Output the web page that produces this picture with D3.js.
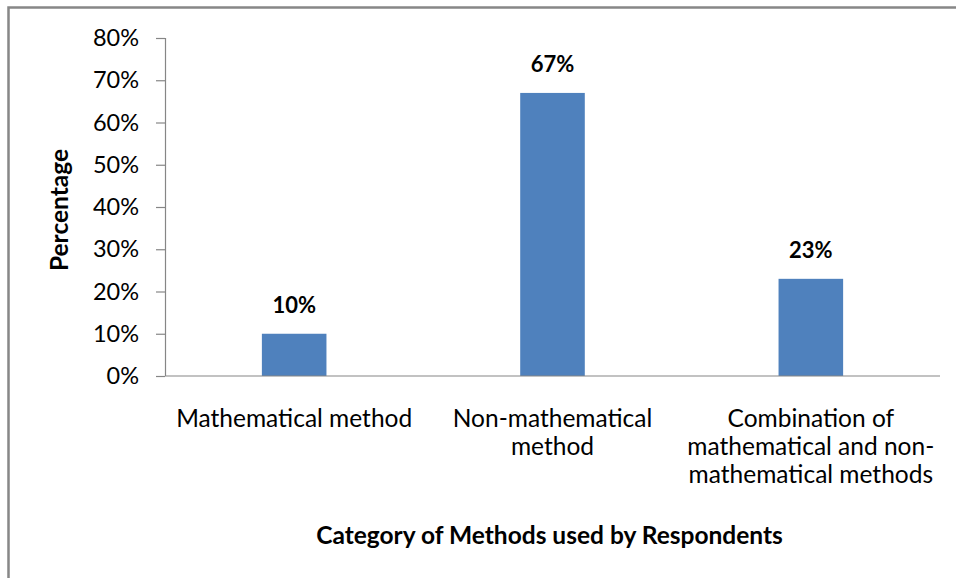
<!DOCTYPE html>
<html><head><meta charset="utf-8">
<script src="https://cdn.jsdelivr.net/npm/d3@7"></script>
<style>
html,body{margin:0;padding:0;background:#fff;}
svg{display:block;}
text{font-family:Lato,"Open Sans",sans-serif;fill:#000;}
</style></head>
<body>
<svg id="chart" width="956" height="578"></svg>
<script>
const categories = ["Mathematical method", "Non-mathematical method", "Combination of mathematical and non-mathematical methods"];
const categoryLines = [["Mathematical method"], ["Non-mathematical", "method"], ["Combination of", "mathematical and non-", "mathematical methods"]];
const values = [10, 67, 23];
const yTicks = [0, 10, 20, 30, 40, 50, 60, 70, 80];
const xTitle = "Category of Methods used by Respondents";
const yTitle = "Percentage";

const svg = d3.select("#chart");
const W = 956, H = 578;
const m = {left: 165, right: 16, top: 38, bottom: 202};

// outer frame (top and left edges visible)
svg.append("path").attr("d", `M8.5,${H} V7.5 H${W}`).attr("fill","none").attr("stroke","#878787").attr("stroke-width",2.5);

const x = d3.scaleBand().domain(categories).range([m.left, W - m.right]).paddingInner(0.75).paddingOuter(0.375);
const y = d3.scaleLinear().domain([0, 80]).range([H - m.bottom, m.top]);

// bars
svg.append("g").selectAll("rect").data(values).join("rect")
  .attr("x", (d,i) => x(categories[i]))
  .attr("width", x.bandwidth())
  .attr("y", d => y(d))
  .attr("height", d => y(0) - y(d))
  .attr("fill", "#4F81BD");

// y axis
const yAxis = svg.append("g").attr("transform", `translate(${m.left},0)`)
  .call(d3.axisLeft(y).tickValues(yTicks).tickFormat(d => d + "%").tickSize(9).tickPadding(17));
yAxis.selectAll("path,line").attr("stroke", "#868686").attr("stroke-width", 1.2);
yAxis.selectAll("text").attr("font-size", 23.5).attr("font-family", "Lato").attr("fill","#000");
yAxis.select(".domain").attr("d", `M0.5,${y(80)}V${y(0)}`);

// x axis line
svg.append("line").attr("x1", m.left).attr("x2", W - m.right).attr("y1", y(0)).attr("y2", y(0))
  .attr("stroke", "#868686").attr("stroke-width", 1.2);

// category labels
const cl = svg.append("g");
categoryLines.forEach((lines, i) => {
  const t = cl.append("text").attr("text-anchor", "middle").attr("font-size", 24.5)
    .attr("x", x(categories[i]) + x.bandwidth()/2).attr("y", y(0) + 51);
  lines.forEach((ln, j) => t.append("tspan").attr("x", x(categories[i]) + x.bandwidth()/2).attr("dy", j === 0 ? 0 : 28).text(ln));
});

// data labels
svg.append("g").selectAll("text").data(values).join("text")
  .attr("x", (d,i) => x(categories[i]) + x.bandwidth()/2)
  .attr("y", d => y(d) - 21)
  .attr("text-anchor", "middle").attr("font-size", 22).attr("font-weight", "bold")
  .text(d => d + "%");

// axis titles
svg.append("text").attr("x", (m.left + W - m.right)/2 - 3).attr("y", 544).attr("text-anchor","middle")
  .attr("font-size", 24.5).attr("font-weight","bold").text(xTitle);
svg.append("text").attr("transform", `translate(68,210) rotate(-90)`).attr("text-anchor","middle")
  .attr("font-size", 24.5).attr("font-weight","bold").text(yTitle);
</script>
</body></html>
